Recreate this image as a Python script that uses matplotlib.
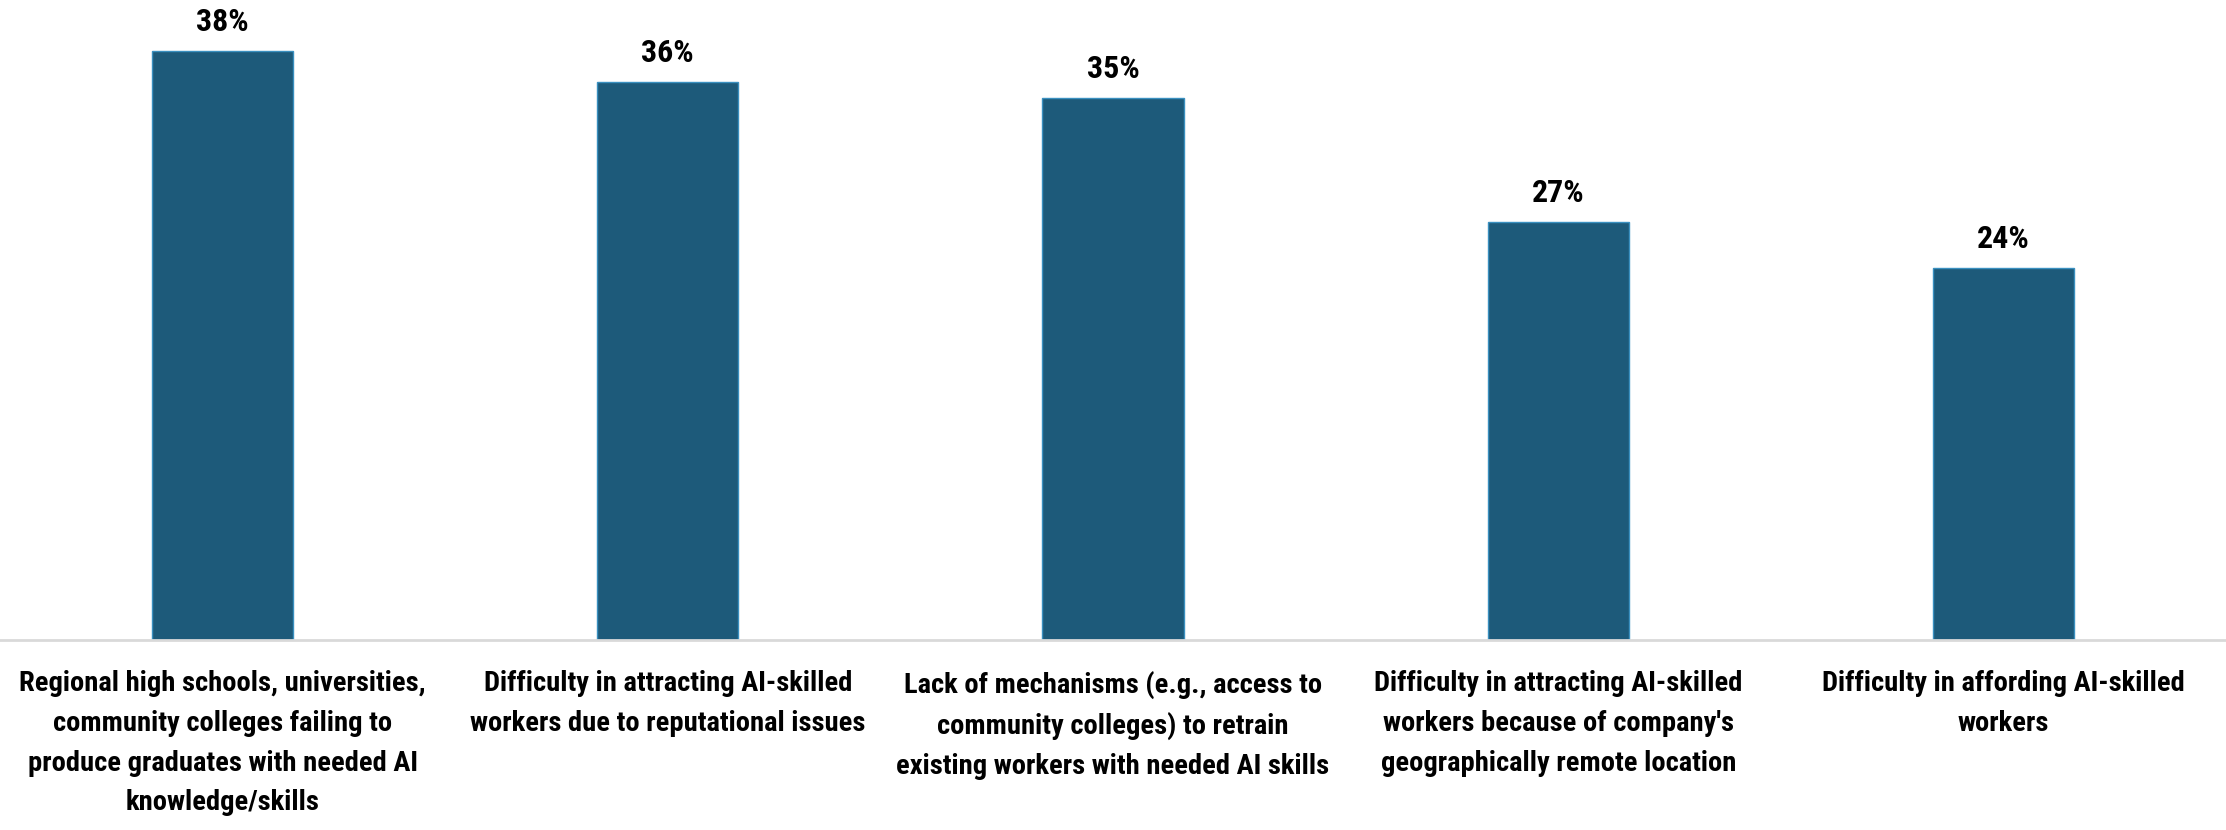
import matplotlib.pyplot as plt
from matplotlib import font_manager

categories = [
    "Regional high schools, universities,\ncommunity colleges failing to\nproduce graduates with needed AI\nknowledge/skills",
    "Difficulty in attracting AI-skilled\nworkers due to reputational issues",
    "Lack of mechanisms (e.g., access to\ncommunity colleges) to retrain\nexisting workers with needed AI skills",
    "Difficulty in attracting AI-skilled\nworkers because of company's\ngeographically remote location",
    "Difficulty in affording AI-skilled\nworkers",
]
values = [38, 36, 35, 27, 24]

# pick a narrow bold face if one is around
installed = {f.name for f in font_manager.fontManager.ttflist}
family = "DejaVu Sans"
for name in ["Liberation Sans Narrow", "DejaVu Sans Condensed", "Roboto Condensed", "Open Sans Condensed", "Roboto"]:
    if name in installed:
        family = name
        break
plt.rcParams["font.family"] = [family, "DejaVu Sans"]

fig = plt.figure(figsize=(22.26, 8.30), dpi=100)
ax = fig.add_axes([0.0, 0.229, 1.0, 0.771])

x = range(len(values))
bars = ax.bar(x, values, width=0.317, color="#1d5a7a", edgecolor="#3a90c0", linewidth=1)
ax.bar_label(bars, labels=[f"{v}%" for v in values], padding=10,
             fontsize=23, fontweight="bold", color="black")

ax.set_xlim(-0.5, len(values) - 0.5)
ax.set_ylim(0, 41.3)
ax.set_xticks(list(x))
ax.set_xticklabels(categories, fontsize=20.5, fontweight="bold", linespacing=1.6)
ax.tick_params(axis="x", length=0, pad=22)
ax.set_yticks([])

for side in ["top", "right", "left"]:
    ax.spines[side].set_visible(False)
ax.spines["bottom"].set_color("#d9d9d9")
ax.spines["bottom"].set_linewidth(2)

fig.savefig("out.png", dpi=100)
